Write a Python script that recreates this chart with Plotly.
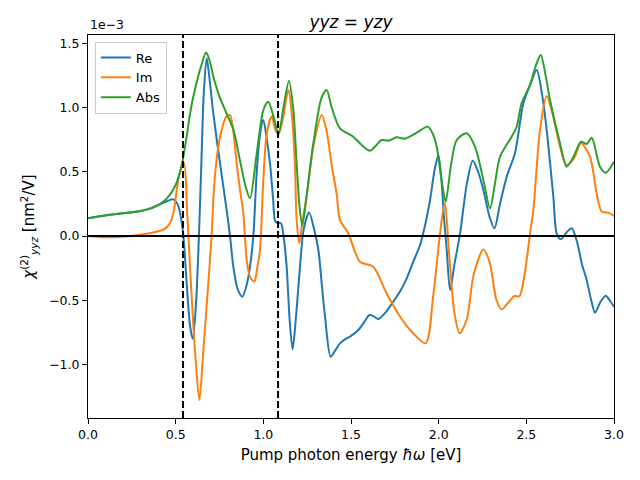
import plotly.graph_objects as go

# Re(chi) -- x in eV, y in units of 1e-3 nm^2/V
re_x = [0.0, 0.1, 0.2, 0.3, 0.36, 0.4, 0.45, 0.487, 0.51, 0.525, 0.544, 0.563, 0.582, 0.597, 0.615,
        0.63, 0.645, 0.66, 0.677, 0.695, 0.715, 0.753, 0.791, 0.81, 0.829, 0.855, 0.88, 0.905, 0.924,
        0.943, 0.962, 0.98, 1.0, 1.02, 1.038, 1.055, 1.067, 1.08, 1.10, 1.115, 1.133, 1.15, 1.167,
        1.185, 1.209, 1.23, 1.261, 1.29, 1.314, 1.335, 1.352, 1.384, 1.41, 1.437, 1.47, 1.494, 1.542,
        1.58, 1.605, 1.63, 1.656, 1.7, 1.741, 1.78, 1.818, 1.855, 1.894, 1.925, 1.951, 1.975, 1.998,
        2.015, 2.03, 2.046, 2.065, 2.09, 2.122, 2.16, 2.194, 2.225, 2.255, 2.29, 2.318, 2.35, 2.388,
        2.435, 2.483, 2.521, 2.559, 2.59, 2.616, 2.654, 2.673, 2.696, 2.73, 2.759, 2.79, 2.816, 2.844,
        2.87, 2.892, 2.92, 2.953, 2.975, 3.0]
re_y = [0.138, 0.160, 0.177, 0.195, 0.215, 0.24, 0.27, 0.285, 0.25, 0.18, 0.0, -0.37, -0.70, -0.80, -0.55,
        -0.1, 0.5, 1.1, 1.383, 1.2, 0.95, 0.566, 0.2, 0.0, -0.24, -0.42, -0.472, -0.38, -0.239,
        0.0, 0.49, 0.78, 0.903, 0.75, 0.566, 0.3, 0.12, 0.10, 0.10, 0.0, -0.24, -0.65, -0.882,
        -0.65, -0.24, 0.05, 0.182, 0.05, -0.109, -0.40, -0.628, -0.939, -0.89, -0.835, -0.80, -0.783, -0.731,
        -0.66, -0.615, -0.625, -0.646, -0.59, -0.511, -0.43, -0.329, -0.2, -0.07, 0.1, 0.28, 0.5, 0.63,
        0.45, 0.15, -0.109, -0.42, -0.22, 0.02, 0.4, 0.586, 0.5, 0.358, 0.15, 0.06, 0.25, 0.461,
        0.643, 1.033, 1.175, 1.292, 1.1, 0.825, 0.306, 0.02, -0.026, 0.03, 0.06, -0.05, -0.213, -0.342,
        -0.5, -0.597, -0.52, -0.464, -0.5, -0.55]

# Im(chi)
im_x = [0.0, 0.1, 0.2, 0.3, 0.38, 0.43, 0.468, 0.49, 0.506, 0.525, 0.548, 0.565, 0.582, 0.61, 0.635,
        0.658, 0.686, 0.705, 0.72, 0.75, 0.79, 0.81, 0.83, 0.848, 0.868, 0.886, 0.905, 0.925, 0.949,
        0.965, 0.981, 1.0, 1.02, 1.048, 1.07, 1.086, 1.11, 1.143, 1.162, 1.18, 1.19, 1.205, 1.224,
        1.247, 1.285, 1.333, 1.36, 1.39, 1.418, 1.437, 1.485, 1.551, 1.627, 1.703, 1.78, 1.855, 1.926,
        1.97, 2.008, 2.034, 2.065, 2.09, 2.12, 2.16, 2.2, 2.255, 2.29, 2.33, 2.359, 2.432, 2.46, 2.49,
        2.521, 2.54, 2.578, 2.616, 2.65, 2.692, 2.73, 2.77, 2.812, 2.863, 2.901, 2.93, 2.97, 3.0]
im_y = [0.0, -0.01, -0.005, 0.01, 0.03, 0.05, 0.1, 0.2, 0.36, 0.5, 0.566, 0.2, -0.24, -0.887, -1.276,
        -0.887, -0.368, 0.0, 0.4, 0.75, 0.93, 0.94, 0.8, 0.566, 0.35, 0.176, -0.187, -0.32, -0.355,
        -0.25, -0.109, 0.436, 0.8, 0.929, 0.82, 0.79, 0.9, 1.136, 0.955, 0.566, 0.125, -0.057, 0.125,
        0.306, 0.695, 0.942, 0.825, 0.55, 0.33, 0.125, 0.02, -0.2, -0.239, -0.446, -0.628, -0.757, -0.835,
        -0.45, 0.02, 0.254, -0.24, -0.6, -0.757, -0.65, -0.3, -0.104, -0.2, -0.5, -0.571, -0.467, -0.47, -0.3,
        0.02, 0.2, 0.825, 1.089, 0.95, 0.695, 0.553, 0.6, 0.721, 0.617, 0.332, 0.19, 0.18, 0.156]

# |chi|
abs_x = [0.0, 0.1, 0.2, 0.3, 0.4, 0.45, 0.5, 0.534, 0.56, 0.582, 0.6, 0.65, 0.673, 0.69, 0.72, 0.75,
         0.79, 0.83, 0.87, 0.9, 0.924, 0.96, 1.0, 1.028, 1.06, 1.086, 1.115, 1.146, 1.17, 1.19, 1.205,
         1.222, 1.25, 1.285, 1.333, 1.361, 1.39, 1.437, 1.513, 1.561, 1.608, 1.64, 1.675, 1.713, 1.761,
         1.808, 1.875, 1.937, 1.965, 1.989, 2.015, 2.04, 2.07, 2.103, 2.16, 2.207, 2.255, 2.293, 2.32,
         2.35, 2.416, 2.445, 2.473, 2.521, 2.555, 2.582, 2.61, 2.635, 2.692, 2.73, 2.77, 2.812, 2.844,
         2.873, 2.92, 2.953, 3.0]
abs_y = [0.138, 0.162, 0.177, 0.195, 0.241, 0.293, 0.397, 0.55, 0.75, 0.95, 1.08, 1.344, 1.427, 1.38, 1.214, 1.084,
         0.955, 0.825, 0.566, 0.38, 0.293, 0.617, 0.98, 1.045, 0.92, 0.794, 1.0, 1.209, 1.0, 0.566, 0.25,
         0.08, 0.35, 0.72, 1.08, 1.136, 1.0, 0.838, 0.773, 0.708, 0.664, 0.70, 0.747, 0.742, 0.768,
         0.757, 0.804, 0.851, 0.80, 0.695, 0.45, 0.267, 0.55, 0.747, 0.799, 0.695, 0.436, 0.215, 0.4,
         0.617, 0.773, 0.85, 1.033, 1.175, 1.33, 1.409, 1.25, 1.058, 0.721, 0.539, 0.62, 0.734, 0.716,
         0.765, 0.539, 0.493, 0.578]

vlines_x = [0.542, 1.084]
x_ticks = [0.0, 0.5, 1.0, 1.5, 2.0, 2.5, 3.0]
y_ticks = [-1.0, -0.5, 0.0, 0.5, 1.0, 1.5]
x_range = [0.0, 3.0]
y_range = [-1.416, 1.564]

FONT = "DejaVu Sans"
FS = 12.5
fig = go.Figure()
for name, xs, ys, col in [("Re", re_x, re_y, "#1f77b4"),
                          ("Im", im_x, im_y, "#ff7f0e"),
                          ("Abs", abs_x, abs_y, "#2ca02c")]:
    fig.add_trace(go.Scatter(x=xs, y=ys, name=name, mode="lines",
                             line=dict(color=col, width=2, shape="spline", smoothing=0.8)))

fig.add_shape(type="line", xref="paper", yref="y", x0=0, x1=1, y0=0, y1=0,
              line=dict(color="black", width=2), layer="above")
for vx in vlines_x:
    fig.add_shape(type="line", xref="x", yref="paper", x0=vx, x1=vx, y0=0, y1=1,
                  line=dict(color="black", width=2, dash="7px,3px"), layer="above")

# page body has an 8px margin, so the figure is offset by 8px right and down
fig.update_layout(
    width=640, height=480,
    margin=dict(l=80, r=34, t=27, b=70, autoexpand=False),
    paper_bgcolor="white", plot_bgcolor="white",
    font=dict(family=FONT, size=FS, color="black"),
    title=dict(text="<i>yyz</i> = <i>yzy</i>", x=0.5, xref="paper", xanchor="center",
               y=1, yref="paper", yanchor="bottom", pad=dict(b=7),
               font=dict(family=FONT, size=17), automargin=False),
    legend=dict(x=0.013, y=0.983, xanchor="left", yanchor="top",
                bgcolor="rgba(255,255,255,0.8)", bordercolor="#cccccc", borderwidth=1,
                font=dict(size=13), tracegroupgap=4, itemwidth=30),
    showlegend=True,
)
fig.update_xaxes(range=x_range, tickvals=x_ticks, tickformat=".1f", automargin=False,
                 showgrid=False, zeroline=False, showline=True, linecolor="black", linewidth=1,
                 mirror=True, ticks="outside", ticklen=5, tickcolor="black",
                 title=dict(text="Pump photon energy <i>ħω</i> [eV]", standoff=8))
fig.update_yaxes(range=y_range, tickvals=y_ticks, tickformat=".1f", automargin=False,
                 showgrid=False, zeroline=False, showline=True, linecolor="black", linewidth=1,
                 mirror=True, ticks="outside", ticklen=5, tickcolor="black",
                 title=dict(text="<i>χ</i><sup>(2)</sup><sub><i>yyz</i></sub> [nm<sup>2</sup>/V]", standoff=10))
fig.add_annotation(text="1e−3", xref="paper", yref="paper", x=0, y=1, xanchor="left", yanchor="bottom",
                   showarrow=False, yshift=1, font=dict(family=FONT, size=FS))

fig.write_html("out.html")
